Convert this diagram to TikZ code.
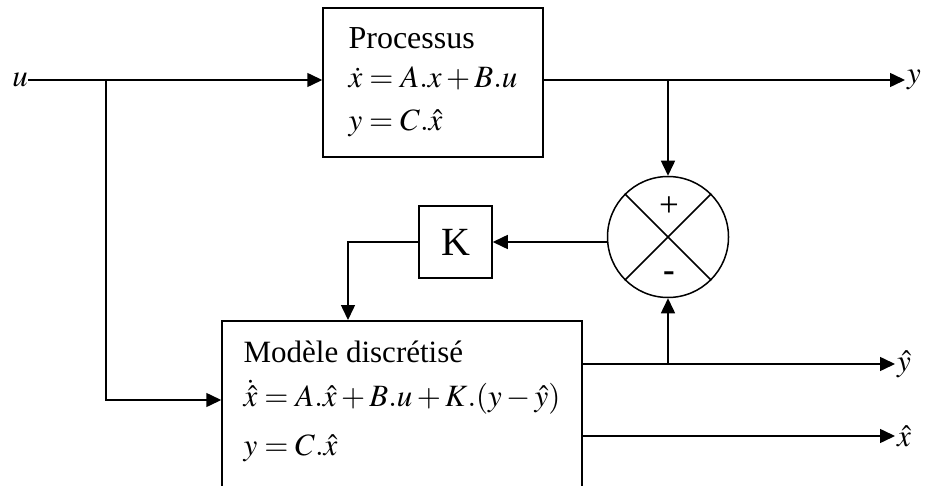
\documentclass[tikz,border=0pt]{standalone}
\usepackage{mathptmx}
\usepackage[no-math]{fontspec}
\setmainfont{Liberation Serif}
\usetikzlibrary{positioning, arrows.meta}

\begin{document}
\begin{tikzpicture}[
    x=1pt, y=-1pt,
    font=\fontsize{31}{41}\selectfont,
    block/.style={rectangle, draw=black, line width=1.5pt, fill=white, align=left, inner sep=0pt},
    sumnode/.style={circle, draw=black, line width=1.5pt, minimum size=121pt, inner sep=0pt},
    signal/.style={black, line width=1.5pt, -{Triangle[length=15pt, width=14pt]}},
    wire/.style={black, line width=1.5pt},
    port/.style={anchor=west, inner sep=2pt}
]

\useasboundingbox (0,0) rectangle (925,486);
\clip (0,0) rectangle (925,486);

% ==================== NODES ====================
\node[block, minimum width=220pt, minimum height=149pt] (proc) at (433, 82.5) {{\fontsize{32}{41}\selectfont Processus}\\[-2pt]
    $\dot{x} = A.x + B.u$\\[2pt]
    $y = C.\hat{x}$};

\node[block, anchor=north, minimum width=360pt, inner ysep=20pt] (model) at (402, 320) {Mod\`ele discr\'etis\'e\\[3pt]
    $\dot{\hat{x}} = A.\hat{x} + B.u + K.(y - \hat{y})$\\[8pt]
    $y = C.\hat{x}$\rule[-60pt]{0pt}{60pt}};

\node[block, minimum width=73pt, minimum height=72pt, font=\fontsize{40}{42}\selectfont] (kgain) at (455.5, 242) {K};

\node[sumnode] (sum) at (668, 237) {};
\node[inner sep=0pt, font=\fontsize{35}{40}\selectfont] (plus) at (669, 207) {+};
\node[inner sep=0pt, font=\fontsize{35}{40}\selectfont\bfseries] (minus) at (669, 277) {-};

% ==================== PORTS ====================
\node[anchor=east, inner sep=0pt] (uin) at (28, 80) {$u$};
\node[port] (yout) at (905, 80) {$y$};
\node[port] (yhatout) at (895, 364) {$\hat{y}$};
\node[port] (xhatout) at (895, 436) {$\hat{x}$};

\coordinate (usplit) at (106, 80);
\coordinate (ubranch) at (106, 400);
\coordinate (kturn) at (348, 242);

% ==================== SUMMING JUNCTION ====================
\draw[wire] (sum.north west) -- (sum.south east);
\draw[wire] (sum.north east) -- (sum.south west);

% ==================== SIGNALS ====================
% input u
\draw[signal] (uin.east) -- (uin.east -| proc.west);
\draw[signal] (usplit) -- (ubranch) -- (ubranch -| model.west);

% process output
\draw[signal] (yout.west -| proc.east) -- (yout.west);
\draw[signal] (sum.north |- yout) -- (sum.north);

% observer gain
\draw[signal] (sum.west |- kgain) -- (kgain.east);
\draw[signal] (kgain.west) -- (kturn) -- (kturn |- model.north);

% model outputs
\draw[signal] (yhatout.west -| model.east) -- (yhatout.west);
\draw[signal] (sum.south |- yhatout) -- (sum.south);
\draw[signal] (xhatout.west -| model.east) -- (xhatout.west);

\end{tikzpicture}
\end{document}
